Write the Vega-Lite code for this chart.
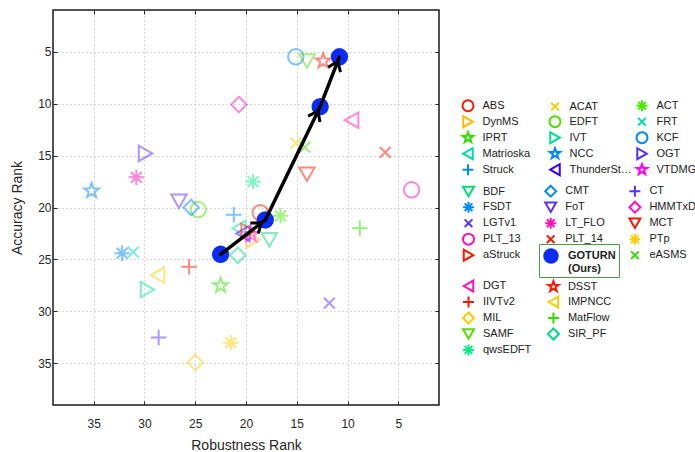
{
 "$schema": "https://vega.github.io/schema/vega-lite/v6.json",
 "width": 386, "height": 395,
 "autosize": {"type": "none"},
 "padding": {"left": 53, "top": 10, "right": 256, "bottom": 47},
 "background": "white",
 "config": {
  "view": {"stroke": "#1a1a1a", "strokeWidth": 1.5},
  "font": "Liberation Sans",
  "axis": {"labelFont": "Liberation Sans", "titleFont": "Liberation Sans", "labelFontSize": 12, "labelColor": "#262626", "titleColor": "#262626", "titleFontSize": 14, "titleFontWeight": "normal", "domain": false, "tickColor": "#262626", "tickSize": -4, "gridColor": "#b0b0b0", "gridDash": [1, 3], "gridWidth": 1, "gridOpacity": 1},
  "legend": {"orient": "none", "direction": "horizontal", "padding": 0, "labelFont": "Liberation Sans", "labelFontSize": 11, "labelColor": "#222222", "labelOffset": 8, "symbolSize": 120, "symbolStrokeWidth": 2, "symbolOpacity": 1, "gridAlign": "all", "labelLimit": 200}
 },
 "datasets": {
  "g1": [
   {"tracker": "ABS", "robustness": 18.6, "accuracy": 20.5},
   {"tracker": "ACAT", "robustness": 15.1, "accuracy": 13.8},
   {"tracker": "ACT", "robustness": 16.6, "accuracy": 20.8},
   {"tracker": "DynMS", "robustness": 19.3, "accuracy": 23.1},
   {"tracker": "EDFT", "robustness": 24.7, "accuracy": 20.2},
   {"tracker": "FRT", "robustness": 31.1, "accuracy": 24.3},
   {"tracker": "IPRT", "robustness": 22.5, "accuracy": 27.5},
   {"tracker": "IVT", "robustness": 29.7, "accuracy": 27.9},
   {"tracker": "KCF", "robustness": 15.1, "accuracy": 5.5},
   {"tracker": "Matrioska", "robustness": 20.7, "accuracy": 22.0},
   {"tracker": "NCC", "robustness": 35.2, "accuracy": 18.4},
   {"tracker": "OGT", "robustness": 29.9, "accuracy": 14.8},
   {"tracker": "Struck", "robustness": 21.2, "accuracy": 20.7},
   {"tracker": "ThunderStruck", "robustness": 20.3, "accuracy": 22.5},
   {"tracker": "VTDMG", "robustness": 19.5, "accuracy": 22.6}
  ],
  "g2": [
   {"tracker": "BDF", "robustness": 17.7, "accuracy": 23.1},
   {"tracker": "CMT", "robustness": 25.4, "accuracy": 20.0},
   {"tracker": "CT", "robustness": 28.6, "accuracy": 32.5},
   {"tracker": "FSDT", "robustness": 32.2, "accuracy": 24.4},
   {"tracker": "FoT", "robustness": 26.6, "accuracy": 19.4},
   {"tracker": "HMMTxD", "robustness": 20.7, "accuracy": 10.1},
   {"tracker": "LGTv1", "robustness": 11.8, "accuracy": 29.2},
   {"tracker": "LT_FLO", "robustness": 30.8, "accuracy": 17.1},
   {"tracker": "MCT", "robustness": 14.0, "accuracy": 16.8},
   {"tracker": "PLT_13", "robustness": 3.7, "accuracy": 18.3},
   {"tracker": "PLT_14", "robustness": 6.3, "accuracy": 14.7},
   {"tracker": "PTp", "robustness": 21.5, "accuracy": 33.0},
   {"tracker": "aStruck", "robustness": 19.8, "accuracy": 22.3},
   {"tracker": "eASMS", "robustness": 14.2, "accuracy": 14.2}
  ],
  "g3": [
   {"tracker": "DGT", "robustness": 9.6, "accuracy": 11.6},
   {"tracker": "DSST", "robustness": 12.4, "accuracy": 5.9},
   {"tracker": "IIVTv2", "robustness": 25.6, "accuracy": 25.7},
   {"tracker": "IMPNCC", "robustness": 28.7, "accuracy": 26.5},
   {"tracker": "MIL", "robustness": 25.0, "accuracy": 34.9},
   {"tracker": "MatFlow", "robustness": 8.8, "accuracy": 22.0},
   {"tracker": "SAMF", "robustness": 14.0, "accuracy": 5.9},
   {"tracker": "SIR_PF", "robustness": 20.8, "accuracy": 24.6},
   {"tracker": "qwsEDFT", "robustness": 19.3, "accuracy": 17.5}
  ],
  "goturn": [
   {"tracker": "GOTURN", "robustness": 10.8, "accuracy": 5.5},
   {"tracker": "GOTURN", "robustness": 12.7, "accuracy": 10.3},
   {"tracker": "GOTURN", "robustness": 18.1, "accuracy": 21.2},
   {"tracker": "GOTURN", "robustness": 22.5, "accuracy": 24.5}
  ],
  "arrows": [
   {"x1": 22.5, "y1": 24.5, "x2": 18.1, "y2": 21.2},
   {"x1": 18.1, "y1": 21.2, "x2": 12.7, "y2": 10.3},
   {"x1": 12.7, "y1": 10.3, "x2": 10.8, "y2": 5.5}
  ]
 },
 "layer": [
  {
   "data": {"name": "g1"},
   "mark": {"type": "point", "filled": false, "strokeWidth": 2, "opacity": 0.5, "size": 240},
   "encoding": {
    "x": {"field": "robustness", "type": "quantitative", "scale": {"domain": [1, 39], "reverse": true, "nice": false, "zero": false}, "axis": {"orient": "bottom", "values": [5, 10, 15, 20, 25, 30, 35], "grid": true, "title": "Robustness Rank", "labelPadding": 17, "titlePadding": 9}},
    "y": {"field": "accuracy", "type": "quantitative", "scale": {"domain": [1, 39], "reverse": true, "nice": false, "zero": false}, "axis": {"orient": "left", "values": [5, 10, 15, 20, 25, 30, 35], "grid": true, "title": "Accuracy Rank", "labelPadding": 6, "titlePadding": 13}},
    "color": {"field": "tracker", "type": "nominal",
     "scale": {"domain": ["ABS", "ACAT", "ACT", "DynMS", "EDFT", "FRT", "IPRT", "IVT", "KCF", "Matrioska", "NCC", "OGT", "Struck", "ThunderStruck", "VTDMG"],
      "range": ["#ff1500", "#ffcc00", "#44ee00", "#ffbb00", "#55dd00", "#00ddaa", "#33dd00", "#00dd99", "#0088ff", "#00ddaa", "#0088ff", "#5533ff", "#0088ff", "#3300ff", "#ff00ff"]},
     "legend": {"title": null, "columns": 3, "direction": "horizontal", "symbolSize": 120, "rowPadding": -5, "columnPadding": 0, "labelLimit": 63, "legendX": 408.5, "legendY": 89.2}},
    "shape": {"field": "tracker", "type": "nominal",
     "scale": {"domain": ["ABS", "ACAT", "ACT", "DynMS", "EDFT", "FRT", "IPRT", "IVT", "KCF", "Matrioska", "NCC", "OGT", "Struck", "ThunderStruck", "VTDMG"],
      "range": ["circle", "M-0.7,-0.7L0.7,0.7M-0.7,0.7L0.7,-0.7", "M-1,0L1,0M0,-1L0,1M-0.7,-0.7L0.7,0.7M-0.7,0.7L0.7,-0.7", "triangle-right", "circle", "M-0.7,-0.7L0.7,0.7M-0.7,0.7L0.7,-0.7", "M0,-1L0.235,-0.324L0.951,-0.309L0.38,0.124L0.588,0.809L0,0.4L-0.588,0.809L-0.38,0.124L-0.951,-0.309L-0.235,-0.324Z", "triangle-right", "circle", "triangle-left", "M0,-1L0.235,-0.324L0.951,-0.309L0.38,0.124L0.588,0.809L0,0.4L-0.588,0.809L-0.38,0.124L-0.951,-0.309L-0.235,-0.324Z", "triangle-right", "M-1,0L1,0M0,-1L0,1", "triangle-left", "M0,-1L0.235,-0.324L0.951,-0.309L0.38,0.124L0.588,0.809L0,0.4L-0.588,0.809L-0.38,0.124L-0.951,-0.309L-0.235,-0.324Z"]},
     "legend": {"title": null, "columns": 3, "direction": "horizontal", "symbolSize": 120, "rowPadding": -5, "columnPadding": 0, "labelLimit": 63, "legendX": 408.5, "legendY": 89.2}}
   }
  },
  {
   "data": {"name": "g2"},
   "mark": {"type": "point", "filled": false, "strokeWidth": 2, "opacity": 0.5, "size": 240},
   "encoding": {
    "x": {"field": "robustness", "type": "quantitative", "scale": {"domain": [1, 39], "reverse": true, "nice": false, "zero": false}, "axis": null},
    "y": {"field": "accuracy", "type": "quantitative", "scale": {"domain": [1, 39], "reverse": true, "nice": false, "zero": false}, "axis": null},
    "color": {"field": "tracker", "type": "nominal",
     "scale": {"domain": ["BDF", "CMT", "CT", "FSDT", "FoT", "HMMTxD", "LGTv1", "LT_FLO", "MCT", "PLT_13", "PLT_14", "PTp", "aStruck", "GOTURN", "eASMS"],
      "range": ["#00dd77", "#0088ff", "#5533ff", "#0088ff", "#5533ff", "#ff11bb", "#5533ff", "#ff11bb", "#ff1500", "#ff11bb", "#ff1500", "#ffcc00", "#ff1500", "transparent", "#33dd00"]},
     "legend": {"title": null, "columns": 3, "direction": "horizontal", "gridAlign": "each", "symbolSize": 120, "rowPadding": -5, "columnPadding": 20.2, "legendX": 409, "legendY": 174.7,
      "labelExpr": "datum.value === 'GOTURN' ? '' : datum.label"}},
    "shape": {"field": "tracker", "type": "nominal",
     "scale": {"domain": ["BDF", "CMT", "CT", "FSDT", "FoT", "HMMTxD", "LGTv1", "LT_FLO", "MCT", "PLT_13", "PLT_14", "PTp", "aStruck", "GOTURN", "eASMS"],
      "range": ["triangle-down", "diamond", "M-1,0L1,0M0,-1L0,1", "M-1,0L1,0M0,-1L0,1M-0.7,-0.7L0.7,0.7M-0.7,0.7L0.7,-0.7", "triangle-down", "diamond", "M-0.7,-0.7L0.7,0.7M-0.7,0.7L0.7,-0.7", "M-1,0L1,0M0,-1L0,1M-0.7,-0.7L0.7,0.7M-0.7,0.7L0.7,-0.7", "triangle-down", "circle", "M-0.7,-0.7L0.7,0.7M-0.7,0.7L0.7,-0.7", "M-1,0L1,0M0,-1L0,1M-0.7,-0.7L0.7,0.7M-0.7,0.7L0.7,-0.7", "triangle-right", "circle", "M-0.7,-0.7L0.7,0.7M-0.7,0.7L0.7,-0.7"]},
     "legend": {"title": null, "columns": 3, "direction": "horizontal", "gridAlign": "each", "symbolSize": 120, "rowPadding": -5, "columnPadding": 20.2, "legendX": 409, "legendY": 174.7,
      "labelExpr": "datum.value === 'GOTURN' ? '' : datum.label"}}
   }
  },
  {
   "data": {"name": "g3"},
   "mark": {"type": "point", "filled": false, "strokeWidth": 2, "opacity": 0.5, "size": 240},
   "encoding": {
    "x": {"field": "robustness", "type": "quantitative", "scale": {"domain": [1, 39], "reverse": true, "nice": false, "zero": false}, "axis": null},
    "y": {"field": "accuracy", "type": "quantitative", "scale": {"domain": [1, 39], "reverse": true, "nice": false, "zero": false}, "axis": null},
    "color": {"field": "tracker", "type": "nominal",
     "scale": {"domain": ["DGT", "DSST", "IIVTv2", "IMPNCC", "MIL", "MatFlow", "SAMF", "SIR_PF", "qwsEDFT"],
      "range": ["#ff11bb", "#ff1500", "#ff1500", "#ffcc00", "#ffcc00", "#33dd00", "#55dd00", "#00dd88", "#00ee88"]},
     "legend": {"title": null, "columns": 2, "direction": "horizontal", "symbolSize": 120, "rowPadding": -5, "columnPadding": 11.9, "legendX": 409, "legendY": 269.5}},
    "shape": {"field": "tracker", "type": "nominal",
     "scale": {"domain": ["DGT", "DSST", "IIVTv2", "IMPNCC", "MIL", "MatFlow", "SAMF", "SIR_PF", "qwsEDFT"],
      "range": ["triangle-left", "M0,-1L0.235,-0.324L0.951,-0.309L0.38,0.124L0.588,0.809L0,0.4L-0.588,0.809L-0.38,0.124L-0.951,-0.309L-0.235,-0.324Z", "M-1,0L1,0M0,-1L0,1", "triangle-left", "diamond", "M-1,0L1,0M0,-1L0,1", "triangle-down", "diamond", "M-1,0L1,0M0,-1L0,1M-0.7,-0.7L0.7,0.7M-0.7,0.7L0.7,-0.7"]},
     "legend": {"title": null, "columns": 2, "direction": "horizontal", "symbolSize": 120, "rowPadding": -5, "columnPadding": 11.9, "legendX": 409, "legendY": 269.5}}
   }
  },
  {
   "data": {"name": "goturn"},
   "mark": {"type": "point", "filled": true, "opacity": 1, "size": 300, "shape": "circle"},
   "encoding": {
    "x": {"field": "robustness", "type": "quantitative", "scale": {"domain": [1, 39], "reverse": true, "nice": false, "zero": false}, "axis": {"orient": "top", "values": [5, 10, 15, 20, 25, 30, 35], "labels": false, "grid": false, "title": null}},
    "y": {"field": "accuracy", "type": "quantitative", "scale": {"domain": [1, 39], "reverse": true, "nice": false, "zero": false}, "axis": {"orient": "right", "values": [5, 10, 15, 20, 25, 30, 35], "labels": false, "grid": false, "title": null}},
    "color": {"field": "tracker", "type": "nominal", "scale": {"domain": ["GOTURN"], "range": ["#0b2bf7"]},
     "legend": {"title": null, "direction": "vertical", "padding": 3, "strokeColor": "#4a9a4a", "symbolSize": 240, "symbolType": "circle", "labelFontWeight": "bold", "labelExpr": "['GOTURN', '(Ours)']", "legendX": 486, "legendY": 234}}
   }
  },
  {
   "data": {"name": "arrows"},
   "mark": {"type": "rule", "strokeWidth": 3.5, "color": "black", "strokeCap": "round"},
   "encoding": {
    "x": {"field": "x1", "type": "quantitative", "scale": {"domain": [1, 39], "reverse": true, "nice": false, "zero": false}, "axis": null},
    "y": {"field": "y1", "type": "quantitative", "scale": {"domain": [1, 39], "reverse": true, "nice": false, "zero": false}, "axis": null},
    "x2": {"field": "x2"},
    "y2": {"field": "y2"}
   }
  },
  {
   "data": {"name": "arrows"},
   "mark": {"type": "point", "filled": false, "strokeWidth": 3, "color": "#000000", "opacity": 1, "size": 144, "shape": "M-1.1,2.3L0,0.8L1.1,2.3", "angle": {"expr": "atan2(datum.x1 - datum.x2, datum.y1 - datum.y2) * 180 / PI"}},
   "encoding": {
    "x": {"field": "x2", "type": "quantitative", "scale": {"domain": [1, 39], "reverse": true, "nice": false, "zero": false}, "axis": null},
    "y": {"field": "y2", "type": "quantitative", "scale": {"domain": [1, 39], "reverse": true, "nice": false, "zero": false}, "axis": null}
   }
  }
 ],
 "resolve": {"scale": {"color": "independent", "shape": "independent"}, "axis": {"x": "independent", "y": "independent"}, "legend": {"color": "independent", "shape": "independent"}}
}
